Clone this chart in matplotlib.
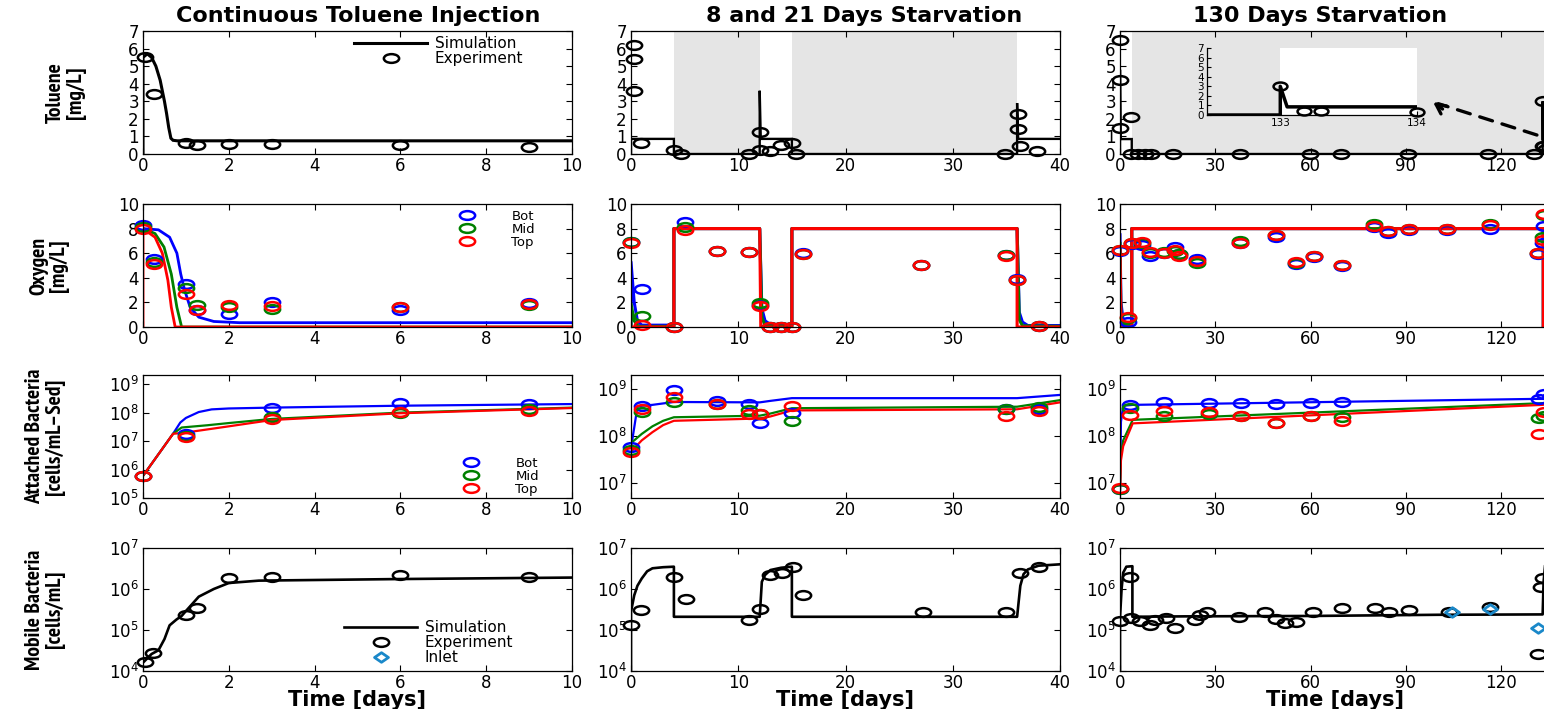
import os
import numpy as np
import matplotlib
matplotlib.use('Agg')
import matplotlib.pyplot as plt
from matplotlib.path import Path
from matplotlib.transforms import Affine2D
from matplotlib.ticker import NullLocator, FixedLocator, LogFormatterSciNotation
from matplotlib import font_manager as fm

# ---------------- data ----------------
col_titles = ["Continuous Toluene Injection", "8 and 21 Days Starvation", "130 Days Starvation"]
row_labels = ["Toluene\n[mg/L]", "Oxygen\n[mg/L]", "Attached Bacteria\n[cells/mL\u2013Sed]", "Mobile Bacteria\n[cells/mL]"]
xticks_cols = [[0, 2, 4, 6, 8, 10], [0, 10, 20, 30, 40], [0, 30, 60, 90, 120]]
xlims = [(0, 10), (0, 40), (0, 135)]
att_ticks = [[1e5, 1e6, 1e7, 1e8, 1e9], [1e7, 1e8, 1e9], [1e7, 1e8, 1e9]]
mob_ticks = [1e4, 1e5, 1e6, 1e7]

# Toluene - simulation
tol1_sim_t = [0, 0, 0.1, 0.2, 0.3, 0.4, 0.5, 0.55, 0.6, 0.65, 0.7, 0.8, 10]
tol1_sim_v = [0, 5.5, 5.7, 5.5, 5.0, 4.2, 3.0, 2.3, 1.5, 0.9, 0.78, 0.75, 0.75]
tol2_sim_t = [0, 0, 4, 4, 12, 12, 12.1, 15, 15, 36, 36, 36.1, 40]
tol2_sim_v = [0, 0.86, 0.86, 0, 0, 3.6, 0.86, 0.86, 0, 0, 2.9, 0.86, 0.86]
tol3_sim_t = [0, 0, 0.2, 3.7, 3.7, 133, 133, 133.05, 135]
tol3_sim_v = [0, 4.8, 0.85, 0.85, 0, 0, 3.0, 0.85, 0.85]
# Toluene - experiment
tol1_exp_t = [0.05, 0.25, 1.0, 1.25, 2, 3, 6, 9]
tol1_exp_v = [5.5, 3.4, 0.6, 0.5, 0.55, 0.55, 0.5, 0.4]
tol2_exp_t = [0.25, 0.25, 0.25, 0.9, 4.0, 4.7, 11.0, 12.0, 12.0, 13.0, 14.0, 15.0, 15.4, 34.9, 36.1, 36.1, 36.3, 37.9]
tol2_exp_v = [6.2, 5.4, 3.6, 0.6, 0.25, 0.0, 0.0, 1.25, 0.2, 0.15, 0.5, 0.6, 0.0, 0.0, 2.25, 1.45, 0.45, 0.15]
tol3_exp_t = [0, 0, 0, 3.4, 3.4, 5.8, 7.9, 9.9, 16.8, 37.7, 59.7, 69.6, 90.6, 115.7, 130.4, 133, 133.17, 133.3, 134]
tol3_exp_v = [6.5, 4.2, 1.5, 2.1, 0, 0, 0, 0, 0, 0, 0, 0, 0, 0, 0, 3.0, 0.45, 0.45, 0.3]
starve2 = [(4, 12), (15, 36)]
starve3 = [(3.7, 135)]
inset_xlim = (132.464, 134)
inset_starve = (132.464, 133)

# Oxygen - simulation (Bot / Mid / Top)
oxy1_bot_t = [0, 0.36, 0.62, 0.79, 0.88, 0.97, 1.1, 1.3, 1.65, 2.25, 10]
oxy1_bot_v = [8.0, 7.9, 7.3, 6.0, 4.3, 3.0, 1.6, 0.8, 0.45, 0.35, 0.35]
oxy1_mid_t = [0, 0.28, 0.49, 0.66, 0.79, 0.9, 10]
oxy1_mid_v = [8.0, 7.6, 6.5, 4.3, 1.6, 0.0, 0.0]
oxy1_top_t = [0, 0, 0.28, 0.45, 0.58, 0.66, 0.75, 10]
oxy1_top_v = [0, 8.0, 7.3, 6.0, 3.8, 1.6, 0.0, 0.0]
oxy2_bot_t = [0, 0, 0.3, 0.6, 1, 4, 4, 12, 12.2, 12.5, 13, 15, 15, 36, 36.2, 36.5, 37, 40]
oxy2_bot_v = [0, 5.3, 2.0, 0.5, 0.15, 0.15, 8, 8, 1.5, 0.5, 0.2, 0.15, 8, 8, 1.2, 0.4, 0.12, 0.12]
oxy2_mid_t = [0, 0, 0.3, 0.7, 4, 4, 12, 12.2, 12.5, 15, 15, 36, 36.2, 36.5, 40]
oxy2_mid_v = [0, 1.9, 0.5, 0.05, 0.05, 8, 8, 0.8, 0.1, 0.05, 8, 8, 0.6, 0.1, 0.05]
oxy2_top_t = [0, 4, 4, 12, 12.1, 15, 15, 36, 36, 40]
oxy2_top_v = [0, 0, 8, 8, 0, 0, 8, 8, 0, 0]
oxy3_bot_t = [0, 0.3, 1, 2, 3.7, 3.7, 133.2, 133.2, 135]
oxy3_bot_v = [7.5, 2.0, 0.5, 0.3, 0.3, 8, 8, 0, 0]
oxy3_mid_t = [0, 0.3, 1, 3.7, 3.7, 133.2, 133.2, 135]
oxy3_mid_v = [6.8, 0.8, 0.2, 0.2, 8, 8, 0, 0]
oxy3_top_t = [0, 0.3, 3.7, 3.7, 133.2, 133.2, 135]
oxy3_top_v = [6.5, 0, 0, 8, 8, 0, 0]
# Oxygen - experiment
oxy1_exp_t = [0, 0.25, 1, 1.25, 2, 3, 6, 9]
oxy1_exp_bot = [8.3, 5.5, 3.5, 1.4, 1.05, 2.05, 1.35, 1.95]
oxy1_exp_mid = [8.1, 5.3, 3.2, 1.8, 1.6, 1.5, 1.6, 1.75]
oxy1_exp_top = [7.95, 5.1, 2.7, 1.35, 1.8, 1.7, 1.6, 1.85]
oxy2_exp_t = [0, 1, 4, 5, 8, 11, 12, 13, 14, 15, 16, 27, 35, 36, 38]
oxy2_exp_bot = [6.9, 3.05, 0, 8.5, 6.2, 6.1, 1.8, 0, 0, 0, 6.05, 5.05, 5.85, 3.9, 0.05]
oxy2_exp_mid = [6.9, 0.9, 0, 8.15, 6.2, 6.1, 1.95, 0, 0, 0, 5.9, 5.05, 5.85, 3.85, 0.05]
oxy2_exp_top = [6.85, 0.2, 0, 7.85, 6.15, 6.1, 1.7, 0, 0, 0, 5.95, 5.05, 5.8, 3.85, 0.05]
oxy3_exp_t = [0, 2.6, 3.7, 6.8, 9.5, 13.7, 17.4, 18.5, 24.2, 37.9, 49, 55.3, 61, 70, 80, 84.2, 91, 103, 116.3, 131.6, 133.0, 133.4]
oxy3_exp_bot = [6.2, 0.4, 6.75, 6.7, 5.75, 6.0, 6.5, 5.9, 5.55, 6.8, 7.35, 5.1, 5.7, 4.95, 8.15, 7.65, 7.9, 7.9, 8.0, 5.9, 6.8, 8.25]
oxy3_exp_mid = [6.25, 0.7, 6.85, 6.85, 6.0, 6.1, 6.2, 5.95, 5.2, 7.0, 7.5, 5.2, 5.8, 5.0, 8.4, 7.8, 8.0, 7.95, 8.4, 6.0, 7.3, 9.1]
oxy3_exp_top = [6.25, 0.8, 6.85, 6.9, 6.1, 6.05, 6.3, 5.75, 5.35, 6.85, 7.45, 5.25, 5.75, 5.05, 8.25, 7.8, 8.0, 7.95, 8.3, 6.05, 7.1, 9.2]

# Attached bacteria - simulation
att1_bot_t = [0, 0.7, 0.87, 1.0, 1.3, 1.6, 2, 3, 6, 10]
att1_bot_v = [6e5, 1.8e7, 4.5e7, 6.5e7, 1.05e8, 1.3e8, 1.4e8, 1.5e8, 1.75e8, 2.0e8]
att1_mid_t = [0, 0.7, 0.9, 1.5, 2, 3, 6, 10]
att1_mid_v = [6e5, 1.8e7, 3e7, 3.6e7, 4.3e7, 6e7, 1e8, 1.5e8]
att1_top_t = [0, 0.7, 1.0, 2, 3, 6, 10]
att1_top_v = [6e5, 1.8e7, 2e7, 3.3e7, 5.5e7, 9.5e7, 1.45e8]
att2_bot_t = [0, 0.3, 0.6, 1, 2, 4, 12, 13, 15, 36, 40]
att2_bot_v = [5.5e7, 1.5e8, 4.2e8, 4.4e8, 4.6e8, 5.3e8, 5.2e8, 5.6e8, 6.4e8, 6.4e8, 7.5e8]
att2_mid_t = [0, 1, 2, 3, 4, 12, 13, 15, 36, 40]
att2_mid_v = [7e7, 1.1e8, 1.6e8, 2.1e8, 2.5e8, 2.7e8, 3.0e8, 3.9e8, 4.2e8, 5.8e8]
att2_top_t = [0, 1, 2, 3, 4, 12, 13, 15, 36, 40]
att2_top_v = [4.6e7, 8e7, 1.2e8, 1.7e8, 2.1e8, 2.35e8, 2.6e8, 3.5e8, 3.7e8, 5.2e8]
att3_bot_t = [0, 0.3, 1, 4, 133, 133.5, 135]
att3_bot_v = [7e6, 2e8, 4.4e8, 4.6e8, 6.2e8, 7.5e8, 7.8e8]
att3_mid_t = [0, 0.3, 1, 4, 133, 135]
att3_mid_v = [7e6, 4e7, 8e7, 2.2e8, 5.0e8, 5.2e8]
att3_top_t = [0, 0.3, 1, 4, 133, 135]
att3_top_v = [7e6, 3e7, 6e7, 1.85e8, 4.6e8, 4.8e8]
# Attached bacteria - experiment
att1_exp_t = [0, 1, 3, 6, 9]
att1_exp_bot = [6e5, 1.8e7, 1.5e8, 2.2e8, 1.95e8]
att1_exp_mid = [5.8e5, 1.5e7, 7e7, 9.5e7, 1.3e8]
att1_exp_top = [6e5, 1.35e7, 6e7, 1.05e8, 1.15e8]
att2_exp_t = [0, 1, 4, 8, 11, 12, 15, 35, 38]
att2_exp_bot = [5.8e7, 4.25e8, 9.4e8, 5.6e8, 4.8e8, 1.87e8, 3.1e8, 3.7e8, 3.8e8]
att2_exp_mid = [5e7, 3.2e8, 5.2e8, 4.8e8, 3.6e8, 2.9e8, 2.1e8, 3.8e8, 4.1e8]
att2_exp_top = [4.6e7, 3.7e8, 6.9e8, 4.8e8, 3e8, 3e8, 4.25e8, 2.7e8, 3.4e8]
att3_exp_t = [0, 3, 14, 28, 38, 49, 60, 70, 132, 133.5]
att3_exp_bot = [7.5e6, 4.6e8, 5.2e8, 5e8, 5e8, 4.8e8, 5e8, 5.2e8, 6.1e8, 7.8e8]
att3_exp_mid = [7.2e6, 3.9e8, 2.7e8, 3e8, 2.6e8, 1.9e8, 2.7e8, 2.5e8, 2.4e8, 2.6e8]
att3_exp_top = [7.8e6, 2.8e8, 3.4e8, 3.2e8, 2.6e8, 1.9e8, 2.7e8, 2.1e8, 1.1e8, 3.3e8]

# Mobile bacteria - simulation
mob1_sim_t = [0, 0.2, 0.36, 0.5, 0.62, 0.78, 0.9, 1.0, 1.3, 1.65, 2.0, 2.7, 6, 10]
mob1_sim_v = [1.6e4, 2.6e4, 3.2e4, 6e4, 1.3e5, 1.8e5, 2.2e5, 2.9e5, 6.5e5, 1e6, 1.4e6, 1.6e6, 1.75e6, 1.9e6]
mob2_sim_t = [0, 0, 0.3, 0.6, 1, 1.5, 2, 3, 4, 4, 12, 12.2, 12.5, 13, 14, 15, 15, 36, 36.3, 36.6, 37, 38, 40]
mob2_sim_v = [1e4, 2.8e5, 7e5, 1.2e6, 1.8e6, 2.7e6, 3.2e6, 3.4e6, 3.5e6, 2.1e5, 2.1e5, 1.5e6, 2.2e6, 2.9e6, 3.3e6, 3.5e6, 2.1e5, 2.1e5, 1.2e6, 2.3e6, 3.0e6, 3.7e6, 4.0e6]
mob3_sim_t = [0, 0, 0.5, 1, 2, 3.9, 3.9, 20, 60, 100, 133, 133.3, 133.8, 135]
mob3_sim_v = [1e4, 2e5, 1e6, 2.5e6, 3.5e6, 3.6e6, 2.1e5, 2.15e5, 2.2e5, 2.35e5, 2.4e5, 1.5e6, 4e6, 5e6]
# Mobile bacteria - experiment
mob1_exp_t = [0.05, 0.23, 1.0, 1.27, 2, 3, 6, 9]
mob1_exp_v = [1.7e4, 2.7e4, 2.3e5, 3.4e5, 1.9e6, 1.95e6, 2.2e6, 1.95e6]
mob2_exp_t = [0, 0.93, 4.0, 5.1, 11, 12, 13, 14.1, 15.1, 16, 27.2, 35, 36.3, 38]
mob2_exp_v = [1.3e5, 3.1e5, 2e6, 5.7e5, 1.75e5, 3.3e5, 2.2e6, 2.4e6, 3.5e6, 7e5, 2.8e5, 2.7e5, 2.5e6, 3.4e6]
mob3_exp_t = [0, 3.2, 3.4, 6.3, 9.3, 11, 14.5, 17.4, 23.7, 25.3, 27.4, 37.4, 45.5, 49, 51.8, 55.3, 60.7, 70, 80.2, 84.7, 91, 103.5, 116.3, 131.6, 133.2, 132.6]
mob3_exp_v = [1.7e5, 2e6, 2.0e5, 1.7e5, 1.35e5, 1.8e5, 2e5, 1.1e5, 1.8e5, 2.3e5, 2.7e5, 2.1e5, 2.7e5, 1.85e5, 1.5e5, 1.55e5, 2.7e5, 3.5e5, 3.5e5, 2.7e5, 3.1e5, 2.8e5, 3.7e5, 2.6e4, 1.9e6, 1.1e6]
mob3_inlet_t = [104.5, 116.3, 131.4]
mob3_inlet_v = [2.7e5, 3.2e5, 1.15e5]

# ---------------- styling ----------------
W, H = 1544, 709
fig = plt.figure(figsize=(W / 100, H / 100), dpi=100)

BLUE, GREEN, RED = (0, 0, 1), (0, 0.5, 0), (1, 0, 0)
INLET = '#1a88c9'
GRAY = (0.898, 0.898, 0.898)
ELL = Path.unit_circle().transformed(Affine2D().scale(1.75, 1.0))
DIA = Path([(0, 1), (1.45, 0), (0, -1), (-1.45, 0), (0, 1)],
           [Path.MOVETO, Path.LINETO, Path.LINETO, Path.LINETO, Path.CLOSEPOLY])
MS, MEW = 11, 1.8

TICKFONT = 'DejaVu Sans'
plt.rcParams['font.family'] = TICKFONT
plt.rcParams['mathtext.fontset'] = 'dejavusans'


def pick_condensed_bold():
    best, best_rank = None, 99
    for f in fm.fontManager.ttflist:
        n = f.name.lower()
        fn = os.path.basename(f.fname).lower()
        w = f.weight
        bold = (isinstance(w, (int, float)) and w >= 600) or (isinstance(w, str) and 'bold' in w.lower()) \
            or 'bold' in fn
        if not bold or 'italic' in fn or 'oblique' in fn:
            continue
        if 'extrabold' in fn or 'black' in fn or 'semibold' in fn:
            continue
        rank = 99
        if 'narrow' in n or 'narrow' in fn:
            rank = 0
        elif 'dejavu' in fn and 'condensed' in fn:
            rank = 2
        elif 'condensed' in fn and not any(k in fn for k in ('semi', 'extra', 'ultra')):
            rank = 1 if 'noto' in fn else 3
        elif 'semicondensed' in fn or f.stretch in ('semi-condensed',):
            rank = 5
        elif f.stretch in ('condensed',):
            rank = 4
        if rank < best_rank:
            best, best_rank = f.fname, rank
    return best


cond = pick_condensed_bold()
if cond:
    LABPROP = fm.FontProperties(fname=cond, size=14)
else:
    LABPROP = fm.FontProperties(family='Liberation Sans', weight='bold', size=12)

# fit label font size so "Attached Bacteria" is ~136 px long
renderer = fig.canvas.get_renderer()
_t = fig.text(0, 0, "Attached Bacteria", fontproperties=LABPROP)
_w = _t.get_window_extent(renderer).width
_t.remove()
LABPROP.set_size(min(17, max(9, LABPROP.get_size() * 136.0 / _w)))

lefts = [143, 631, 1120]
tops = [31, 204, 375, 548]
AW, AH = 429, 123
ylab_x = [66, 49, 45, 45]
TL = 12


def make_ax(r, c):
    ax = fig.add_axes([lefts[c] / W, 1 - (tops[r] + AH) / H, AW / W, AH / H])
    ax.tick_params(direction='in', top=True, right=(c < 2), length=4, width=0.8,
                   labelsize=TL, pad=3)
    ax.tick_params(axis='x', pad=2)
    for s in ax.spines.values():
        s.set_linewidth(0.9)
    ax.set_xlim(*xlims[c])
    ax.xaxis.set_major_locator(FixedLocator(xticks_cols[c]))
    if c == 0:
        ax.set_ylabel(row_labels[r], fontproperties=LABPROP, linespacing=1.0,
                      ha='center', va='center')
        ax.yaxis.set_label_coords((ylab_x[r] - lefts[0]) / AW, 0.5)
    if r == 3:
        ax.set_xlabel('Time [days]', fontweight='bold', fontsize=15, va='top')
        ax.xaxis.set_label_coords(0.5, -(688.5 - 670) / AH)
    return ax


def set_log(ax, ticks, lims):
    ax.set_yscale('log')
    ax.set_ylim(*lims)
    ax.yaxis.set_major_locator(FixedLocator(ticks))
    ax.yaxis.set_major_formatter(LogFormatterSciNotation())
    ax.yaxis.set_minor_locator(NullLocator())


def exp(ax, t, v, color, **kw):
    ax.plot(t, v, ls='none', marker=ELL, ms=MS, mew=MEW, mfc='none', mec=color, clip_on=False, **kw)


sim_tol = [(tol1_sim_t, tol1_sim_v), (tol2_sim_t, tol2_sim_v), (tol3_sim_t, tol3_sim_v)]
exp_tol = [(tol1_exp_t, tol1_exp_v), (tol2_exp_t, tol2_exp_v), (tol3_exp_t, tol3_exp_v)]
sim_oxy = [[(oxy1_bot_t, oxy1_bot_v), (oxy1_mid_t, oxy1_mid_v), (oxy1_top_t, oxy1_top_v)],
           [(oxy2_bot_t, oxy2_bot_v), (oxy2_mid_t, oxy2_mid_v), (oxy2_top_t, oxy2_top_v)],
           [(oxy3_bot_t, oxy3_bot_v), (oxy3_mid_t, oxy3_mid_v), (oxy3_top_t, oxy3_top_v)]]
exp_oxy = [(oxy1_exp_t, [oxy1_exp_bot, oxy1_exp_mid, oxy1_exp_top]),
           (oxy2_exp_t, [oxy2_exp_bot, oxy2_exp_mid, oxy2_exp_top]),
           (oxy3_exp_t, [oxy3_exp_bot, oxy3_exp_mid, oxy3_exp_top])]
sim_att = [[(att1_bot_t, att1_bot_v), (att1_mid_t, att1_mid_v), (att1_top_t, att1_top_v)],
           [(att2_bot_t, att2_bot_v), (att2_mid_t, att2_mid_v), (att2_top_t, att2_top_v)],
           [(att3_bot_t, att3_bot_v), (att3_mid_t, att3_mid_v), (att3_top_t, att3_top_v)]]
exp_att = [(att1_exp_t, [att1_exp_bot, att1_exp_mid, att1_exp_top]),
           (att2_exp_t, [att2_exp_bot, att2_exp_mid, att2_exp_top]),
           (att3_exp_t, [att3_exp_bot, att3_exp_mid, att3_exp_top])]
sim_mob = [(mob1_sim_t, mob1_sim_v), (mob2_sim_t, mob2_sim_v), (mob3_sim_t, mob3_sim_v)]
exp_mob = [(mob1_exp_t, mob1_exp_v), (mob2_exp_t, mob2_exp_v), (mob3_exp_t, mob3_exp_v)]
COLS3 = [BLUE, GREEN, RED]
LEG3 = ['Bot', 'Mid', 'Top']
title_x = [358, 864, 1320]

for c in range(3):
    fig.text(title_x[c] / W, 1 - 16 / H, col_titles[c], ha='center', va='center',
             fontsize=16, fontweight='bold')

    # ---- Toluene ----
    ax = make_ax(0, c)
    ax.set_ylim(0, 7)
    ax.yaxis.set_major_locator(FixedLocator(range(0, 8)))
    if c == 1:
        for a, b in starve2:
            ax.axvspan(a, b, color=GRAY, lw=0, zorder=0)
    if c == 2:
        for a, b in starve3:
            ax.axvspan(a, b, color=GRAY, lw=0, zorder=0)
    lw = 2.2 if c == 0 else 1.7
    ax.plot(*sim_tol[c], color='k', lw=lw, label='Simulation', solid_joinstyle='miter')
    exp(ax, *exp_tol[c], 'k', label='Experiment')
    if c == 0:
        ax.legend(loc='upper left', bbox_to_anchor=((354 - 143) / AW, 1 - 5 / AH), frameon=False,
                  fontsize=11, handlelength=4.8, handletextpad=0.5, borderpad=0,
                  borderaxespad=0, labelspacing=0.0)
    if c == 2:
        # inset zoom near day 133
        ins = fig.add_axes([1207 / W, 1 - 115 / H, 210 / W, 67 / H])
        ins.set_xlim(*inset_xlim)
        ins.set_ylim(0, 7)
        ins.axvspan(*inset_starve, color=GRAY, lw=0, zorder=0)
        ins.plot(*sim_tol[2], color='k', lw=2.5)
        tt = np.array(tol3_exp_t)
        vv = np.array(tol3_exp_v)
        keep = tt >= inset_xlim[0]
        ins.plot(tt[keep], vv[keep], ls='none', marker=ELL, ms=10, mew=1.8, mfc='none', mec='k',
                 clip_on=False)
        ins.xaxis.set_major_locator(FixedLocator([133, 134]))
        ins.yaxis.set_major_locator(FixedLocator(range(0, 8)))
        ins.tick_params(direction='in', length=3, labelsize=7.5, pad=2)
        ins.spines['top'].set_visible(False)
        ins.spines['right'].set_visible(False)
        for s in ('left', 'bottom'):
            ins.spines[s].set_linewidth(0.9)
        # dashed arrow pointing to inset
        tail = (131.2, 1.08)
        head = (98.5, 2.96)
        ax.annotate('', xy=head, xytext=tail,
                    arrowprops=dict(arrowstyle='-', lw=2.4, ls=(0, (4, 3)), color='k',
                                    shrinkA=0, shrinkB=4))
        ax.annotate('', xy=head, xytext=(head[0] + 3, head[1] - 0.4),
                    arrowprops=dict(arrowstyle='->,head_length=0.7,head_width=0.35', lw=2.4,
                                    color='k', shrinkA=0, shrinkB=0))

    # ---- Oxygen ----
    ax = make_ax(1, c)
    ax.set_ylim(0, 10)
    ax.yaxis.set_major_locator(FixedLocator(range(0, 11, 2)))
    for (t, v), col in zip(sim_oxy[c], COLS3):
        ax.plot(t, v, color=col, lw=2.2 if c else 2.0)
    t, vals = exp_oxy[c]
    for v, col, lab in zip(vals, COLS3, LEG3):
        exp(ax, t, v, col, label=lab)
    if c == 0:
        ax.legend(loc='upper left', bbox_to_anchor=((452 - 143) / AW, 1 - 6 / AH), frameon=False,
                  fontsize=9.5, handlelength=2.2, handletextpad=2.3, borderpad=0,
                  borderaxespad=0, labelspacing=0.0)

    # ---- Attached bacteria ----
    ax = make_ax(2, c)
    set_log(ax, att_ticks[c], (1e5, 2.1e9) if c == 0 else (4.7e6, 2.0e9))
    for (t, v), col in zip(sim_att[c], COLS3):
        ax.plot(t, v, color=col, lw=1.6)
    t, vals = exp_att[c]
    for v, col, lab in zip(vals, COLS3, LEG3):
        exp(ax, t, v, col, label=lab)
    if c == 0:
        ax.legend(loc='upper left', bbox_to_anchor=((456 - 143) / AW, 1 - 82 / AH), frameon=False,
                  fontsize=9.5, handlelength=2.2, handletextpad=2.3, borderpad=0,
                  borderaxespad=0, labelspacing=0.0)

    # ---- Mobile bacteria ----
    ax = make_ax(3, c)
    set_log(ax, mob_ticks, (1e4, 1e7))
    ax.plot(*sim_mob[c], color='k', lw=1.9, label='Simulation')
    exp(ax, *exp_mob[c], 'k', label='Experiment')
    ax.plot(mob3_inlet_t if c == 2 else [], mob3_inlet_v if c == 2 else [], ls='none', marker=DIA,
            ms=10, mew=2.0, mfc='none', mec=INLET, label='Inlet', clip_on=False)
    if c == 0:
        ax.legend(loc='upper left', bbox_to_anchor=((344 - 143) / AW, 1 - 72 / AH), frameon=False,
                  fontsize=11, handlelength=4.8, handletextpad=0.5, borderpad=0,
                  borderaxespad=0, labelspacing=0.0)

fig.savefig('out.png', dpi=100)
